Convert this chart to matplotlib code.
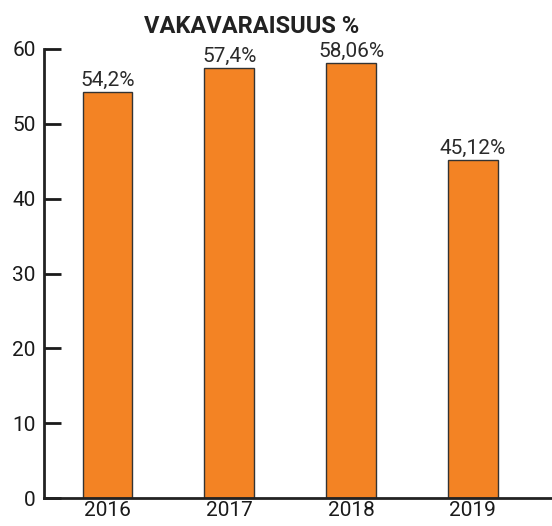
import matplotlib.pyplot as plt

years = ["2016", "2017", "2018", "2019"]
values = [54.2, 57.4, 58.06, 45.12]
labels = ["54,2%", "57,4%", "58,06%", "45,12%"]

plt.rcParams['font.family'] = ['Roboto', 'DejaVu Sans']

fig = plt.figure(figsize=(5.52, 5.26), dpi=100)
ax = fig.add_axes([0.08, 0.053, 0.92, 0.854])

x = range(len(years))
ax.bar(x, values, width=0.41, color="#f38324", edgecolor="#333333", linewidth=1)
for i, v in enumerate(values):
    ax.text(i, v + 0.3, labels[i], ha="center", va="bottom", fontsize=15,
            color="#2a2a2a")

ax.set_xticks(list(x))
ax.set_xticklabels(years)
ax.set_xlim(-0.52, 3.65)
ax.set_ylim(0, 60)
ax.set_yticks(range(0, 61, 10))
ax.tick_params(axis="x", length=0, labelsize=15, pad=2, colors="#1a1a1a")
ax.tick_params(axis="y", direction="in", length=12, width=2, labelsize=15, pad=6, colors="#1a1a1a")
ax.spines["top"].set_visible(False)
ax.spines["right"].set_visible(False)
ax.spines["left"].set_linewidth(2)
ax.spines["bottom"].set_linewidth(2)
ax.spines["left"].set_color("#222222")
ax.spines["bottom"].set_color("#222222")

fig.text(0.455, 0.95, "VAKAVARAISUUS %", ha="center", va="center", fontsize=17,
         fontweight="bold", color="#222222")

plt.savefig("out.png")
